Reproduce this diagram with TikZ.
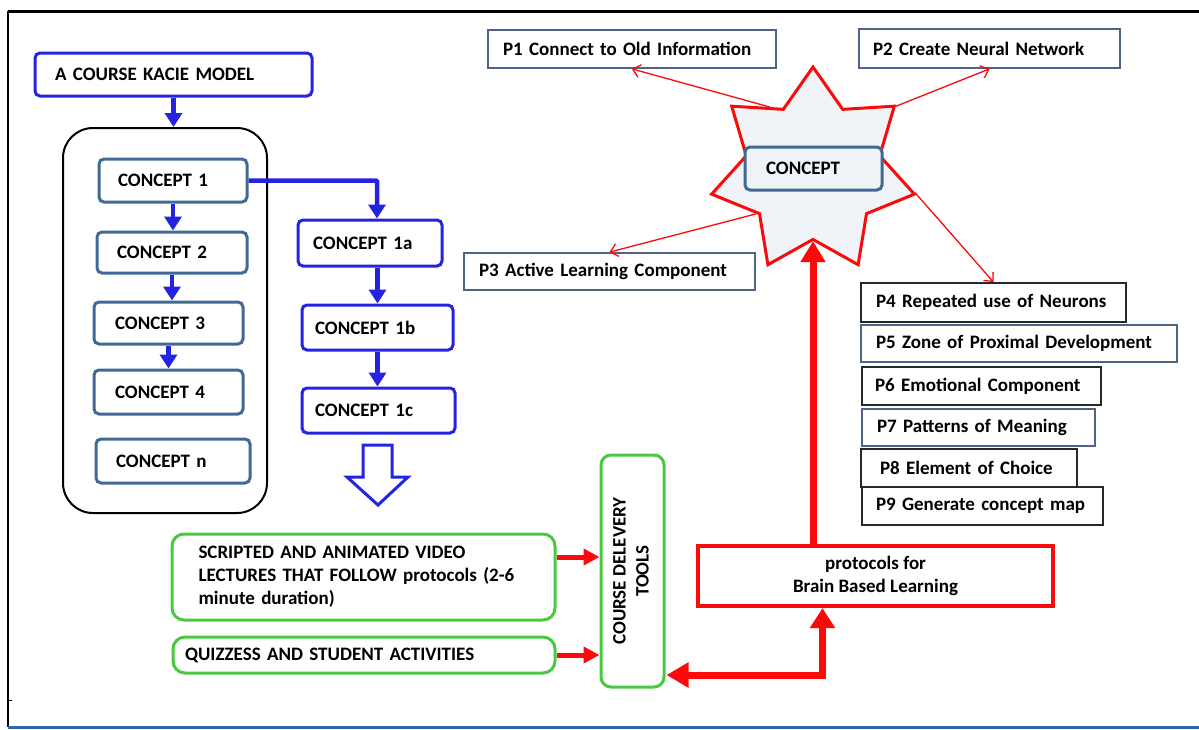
\documentclass[tikz,border=0pt]{standalone}
\usepackage{fontspec}
\setmainfont{Carlito}
\usetikzlibrary{arrows.meta, shapes.geometric, calc}

\definecolor{blueA}{RGB}{35,35,225}
\definecolor{steel}{RGB}{65,105,150}
\definecolor{greenA}{RGB}{75,200,65}
\definecolor{redA}{RGB}{250,10,10}
\definecolor{pgray}{RGB}{80,100,135}
\definecolor{pblack}{RGB}{40,40,40}
\definecolor{starfill}{RGB}{240,243,248}
\definecolor{framebl}{RGB}{50,100,180}

\begin{document}
\begin{tikzpicture}[x=1pt, y=-1pt, font=\bfseries\fontsize{19}{23}\selectfont,
  model/.style={draw=blueA, line width=3pt, rounded corners=5pt, fill=white, align=left, inner sep=0pt},
  conc/.style={draw=steel, line width=3pt, rounded corners=5pt, fill=white, align=left, inner sep=0pt},
  sub/.style={draw=blueA, line width=3pt, rounded corners=5pt, fill=white, align=left, inner sep=0pt},
  tool/.style={draw=greenA, line width=3pt, rounded corners=12pt, fill=white, align=left, inner sep=0pt},
  pbox/.style={draw=pgray, line width=1.8pt, fill=white, align=left, inner sep=0pt},
  pboxk/.style={pbox, draw=pblack},
  flow/.style={-{Triangle[width=17pt, length=14pt]}, line width=4.5pt, blueA},
  feed/.style={-{Triangle[width=16pt, length=16pt]}, line width=5pt, redA},
  bigred/.style={-{Triangle[width=24pt, length=21pt]}, line width=7pt, redA},
  bigboth/.style={{Triangle[width=24pt, length=22pt]}-{Triangle[width=24pt, length=20pt]}, line width=7pt, redA},
  link/.style={-{Straight Barb[width=13pt, length=7pt]}, line width=1.3pt, redA},
]
\useasboundingbox (0,0) rectangle (1199,729);

% frame
\draw[line width=3pt] (8,11) -- (1199,11);
\draw[line width=2pt] (8,11) -- (8,727);
\draw[line width=1pt] (8,700) -- (12,700);
\draw[framebl, line width=3pt] (8,727) -- (1199,727);

% left: course model
\node[model, minimum width=277pt, minimum height=43pt, text width=237pt] (model) at (173.5,74.5) {A COURSE KACIE MODEL};
\node[draw, line width=2pt, rounded corners=30pt, minimum width=204pt, minimum height=385pt] (box) at (165,320.5) {};
\node[conc, minimum width=148pt, minimum height=43pt, text width=110pt] (c1) at (173,180.5) {CONCEPT 1};
\node[conc, minimum width=150pt, minimum height=41pt, text width=110pt] (c2) at (172,252.5) {CONCEPT 2};
\node[conc, minimum width=149pt, minimum height=42pt, text width=107pt] (c3) at (168.5,323) {CONCEPT 3};
\node[conc, minimum width=149pt, minimum height=44pt, text width=107pt] (c4) at (168.5,392) {CONCEPT 4};
\node[conc, minimum width=154pt, minimum height=44pt, text width=114pt] (cn) at (173,461) {CONCEPT n};
\node[sub, minimum width=144pt, minimum height=46pt, text width=114pt] (c1a) at (370,243) {CONCEPT 1a};
\node[sub, minimum width=151pt, minimum height=45pt, text width=125pt] (c1b) at (377.5,327.5) {CONCEPT 1b};
\node[sub, minimum width=153pt, minimum height=45pt, text width=127pt] (c1c) at (378.5,410.5) {CONCEPT 1c};

\draw[flow] (model.south) -- (model.south |- box.north);
\draw[flow] (c1.south) -- (c1.south |- c2.north);
\draw[flow] (c2.south) -- (c2.south |- c3.north);
\draw[flow] (c3.south) -- (c3.south |- c4.north);
\draw[flow, rounded corners=1pt] (c1.east) -| ([xshift=7pt]c1a.north);
\draw[flow] (c1b.north |- c1a.south) -- (c1b.north);
\draw[flow] (c1b.south) -- (c1b.south |- c1c.north);
\draw[blueA, line width=3pt, fill=white, line join=miter]
  (363,445) -- (392,445) -- (392,477) -- (408,477) -- (378,505) -- (347,477) -- (363,477) -- cycle;

% delivery
\node[tool, minimum width=383pt, minimum height=86pt, text width=330pt] (video) at (363.5,577)
  {SCRIPTED AND ANIMATED VIDEO\\LECTURES THAT FOLLOW protocols (2-6\\minute duration)};
\node[tool, minimum width=382pt, minimum height=36pt, text width=358pt] (quiz) at (364,655) {QUIZZESS AND STUDENT ACTIVITIES};
\node[tool, rounded corners=10pt, minimum width=63pt, minimum height=232pt] (cdt) at (632.5,571)
  {\rotatebox{90}{\begin{tabular}{@{}c@{}}COURSE DELEVERY\\TOOLS\end{tabular}}};
\node[draw=redA, line width=4pt, fill=white, align=center, minimum width=355pt, minimum height=60pt] (proto) at (875.5,576)
  {protocols for\\Brain Based Learning};

\draw[feed] ($(video.east)+(0,-20)$) coordinate (va) -- (va -| cdt.west);
\draw[feed] (quiz.east) -- (quiz.east -| cdt.west);
\draw[bigboth, shorten <=1pt] ($(cdt.east)+(0,104)$) coordinate (ca) -| ($(proto.south)+(-53,0)$);

% concept star and principles
\node[shape=star, star points=7, star point ratio=1.52, minimum size=208pt, inner sep=0pt,
  draw=redA, line width=3pt, fill=starfill] (star) at (813,171) {};
\node[conc, fill=starfill, minimum width=137pt, minimum height=43pt, text width=95pt] (concept) at (813.5,168.5) {CONCEPT};
\draw[bigred] (proto.north -| star.south) -- (star.south);

\node[pbox, minimum width=288pt, minimum height=38pt, text width=258pt] (p1) at (632,49) {P1 Connect to Old Information};
\node[pbox, minimum width=261pt, minimum height=39pt, text width=233pt] (p2) at (989.5,48.5) {P2 Create Neural Network};
\node[pbox, minimum width=291pt, minimum height=37pt, text width=261pt] (p3) at (609.5,271.5) {P3 Active Learning Component};
\node[pboxk, minimum width=265pt, minimum height=39pt, text width=235pt] (p4) at (993.5,302.5) {P4 Repeated use of Neurons};
\node[pbox, minimum width=316pt, minimum height=37pt, text width=286pt] (p5) at (1019,343.5) {P5 Zone of Proximal Development};
\node[pboxk, minimum width=239pt, minimum height=38pt, text width=213pt] (p6) at (981.5,386) {P6 Emotional Component};
\node[pbox, minimum width=233pt, minimum height=37pt, text width=203pt] (p7) at (978.5,427.5) {P7 Patterns of Meaning};
\node[pboxk, minimum width=216pt, minimum height=38pt, text width=178pt] (p8) at (969,468) {P8 Element of Choice};
\node[pboxk, minimum width=241pt, minimum height=38pt, text width=213pt] (p9) at (982.5,506) {P9 Generate concept map};

\draw[link] (star.124) -- (p1.south);
\draw[link] (star.38) -- (p2.south);
\draw[link] (star.217) -- (p3.north);
\draw[link] (star.-12) -- (p4.north);
\end{tikzpicture}
\end{document}
